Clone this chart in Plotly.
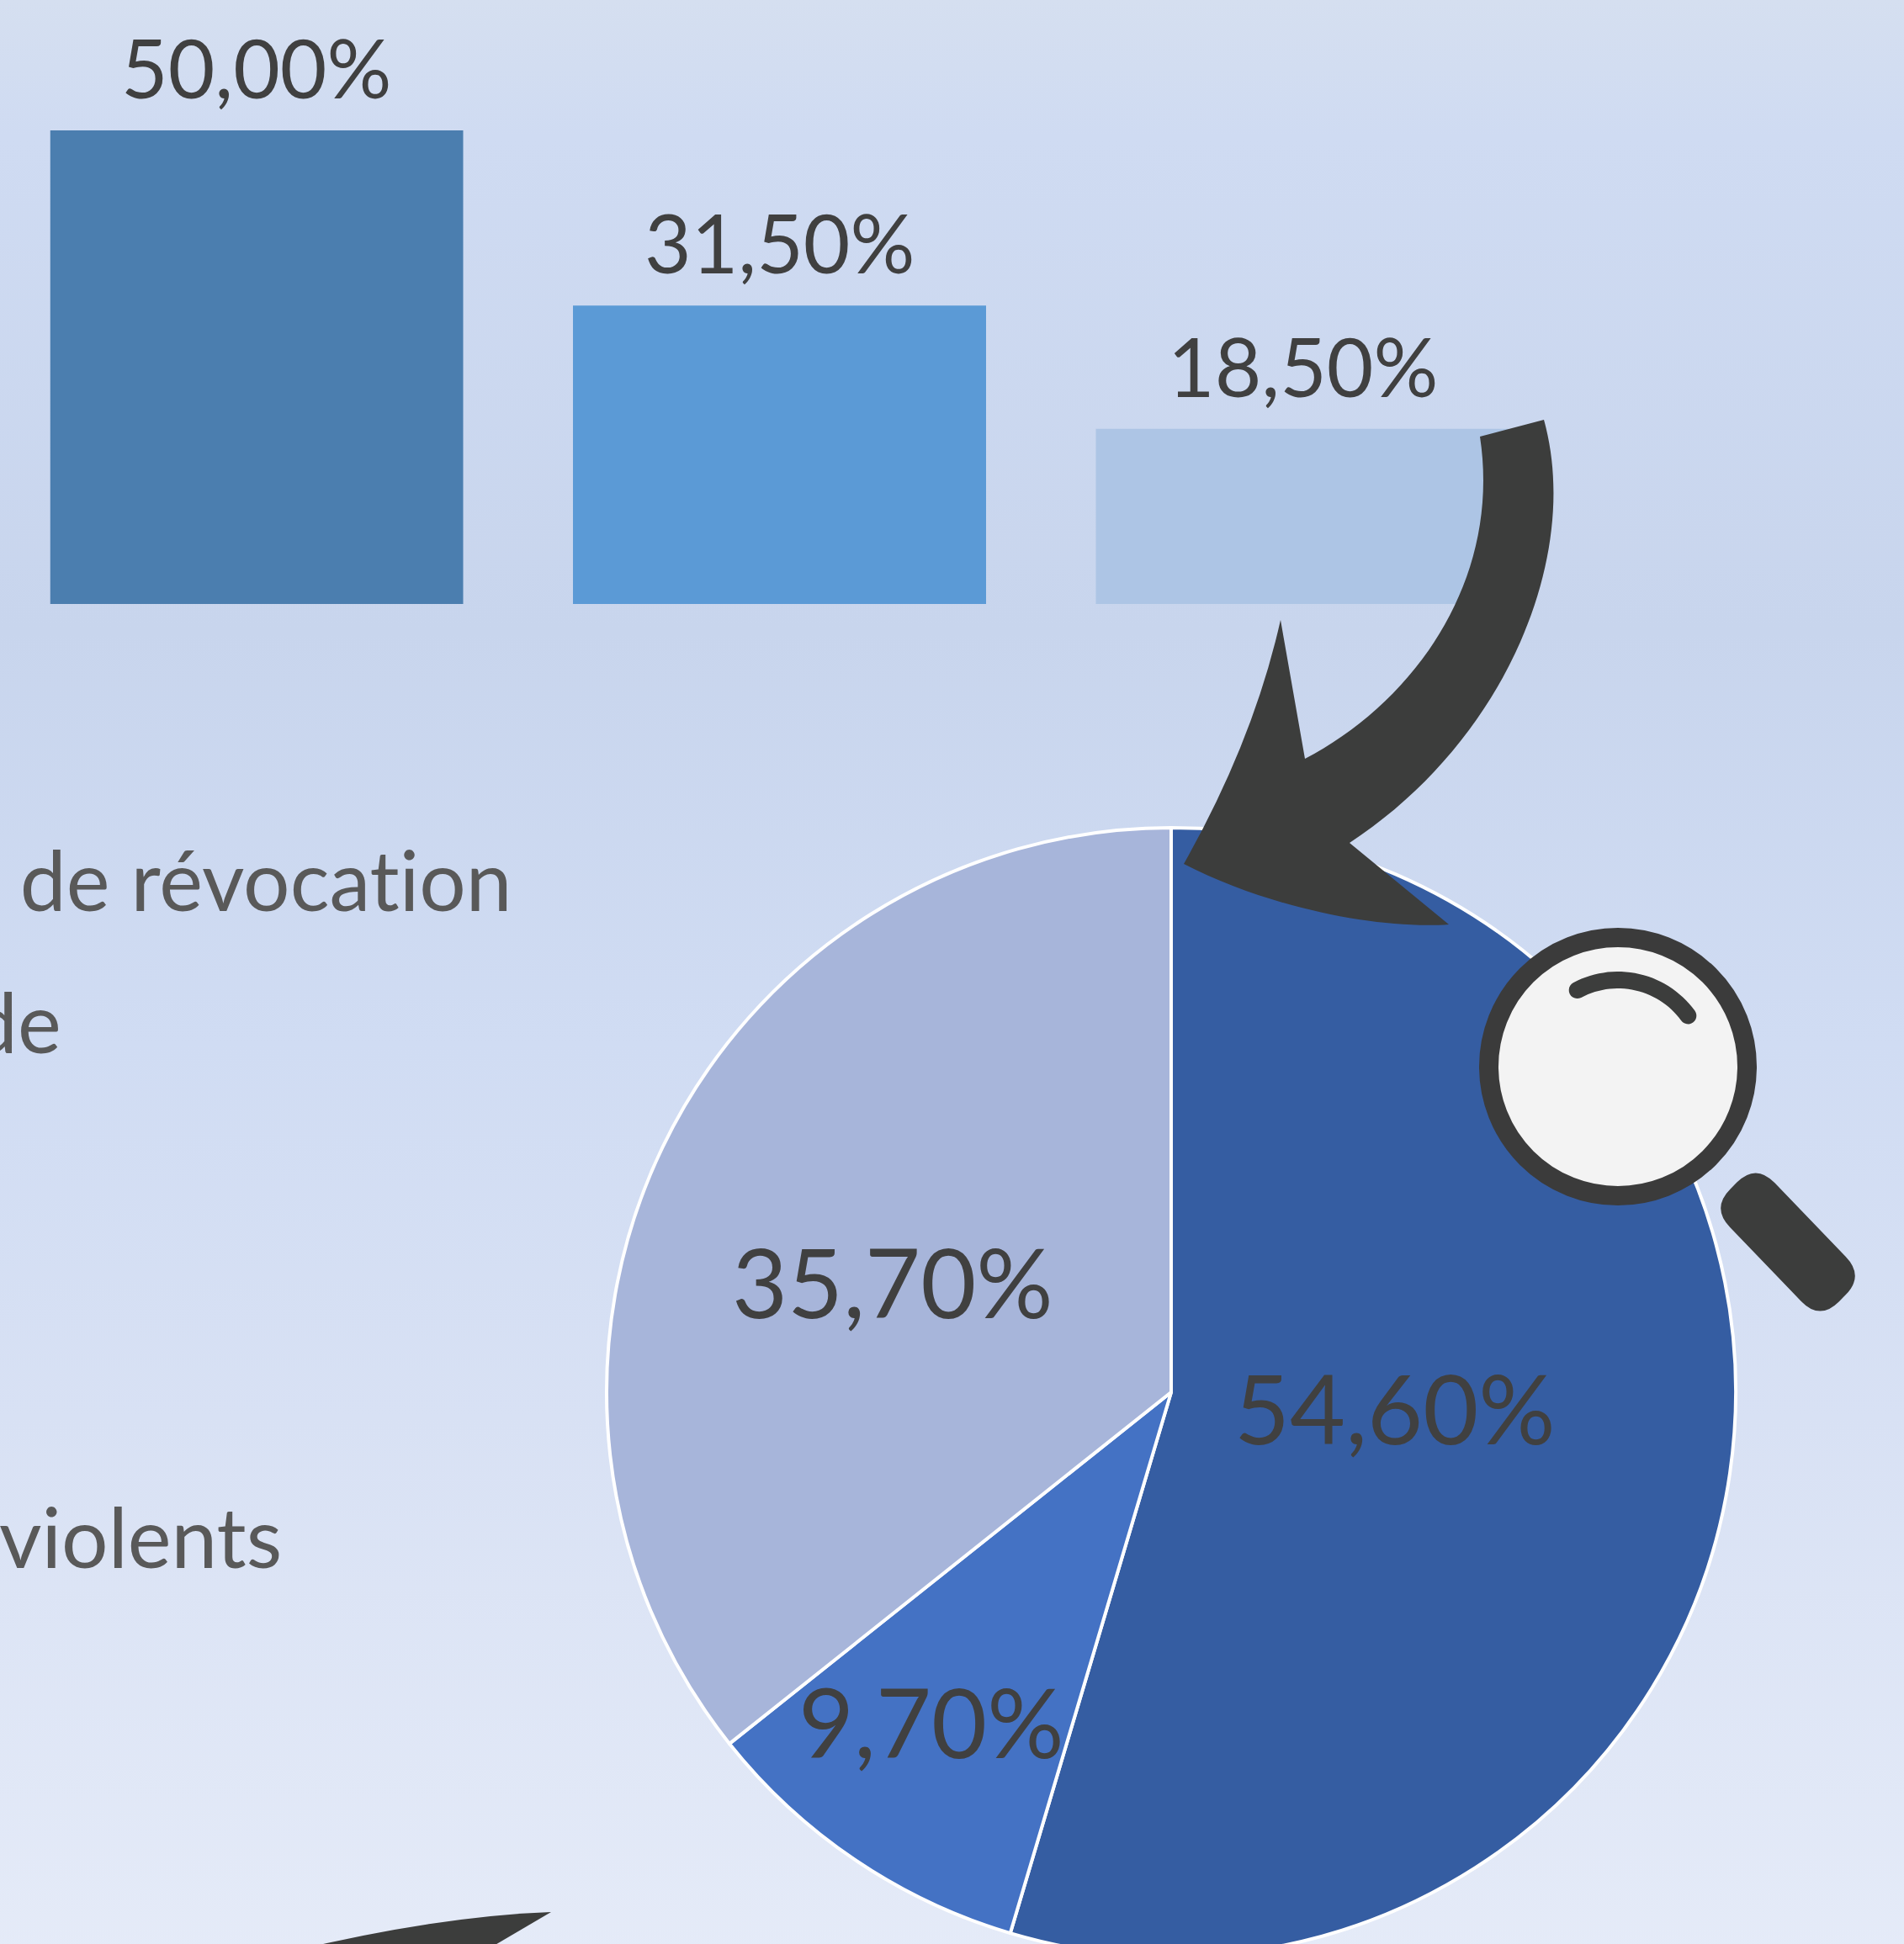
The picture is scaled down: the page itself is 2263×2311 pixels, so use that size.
import math
import plotly.graph_objects as go

# ---- data
bar_categories = ["A", "B", "C"]
bar_values = [50.0, 31.5, 18.5]
pie_labels = ["Part 1", "Part 2", "Part 3"]
pie_values = [54.6, 9.7, 35.7]
left_texts = ["de révocation", "de", "violents"]

# ---- styles
W, H, PAGE_H = 2263, 2340, 2311
TEXT = "#404040"
DARK = "#3C3D3C"
FONT = "Lato"
bar_colors = ["#4B7EAF", "#5B9AD6", "#ADC5E5"]
pie_colors = ["#355DA2", "#4472C4", "#A7B5DA"]
bg_stops = [(0, "#D5DFF0"), (0.07, "#CFDBF2"), (0.32, "#C8D5ED"), (0.53, "#D0DCF3"),
            (0.72, "#D8E1F4"), (1, "#E5EBF8")]


def fmt(v):
    return f"{v:.2f}".replace(".", ",") + "%"


def rounded_poly(pts, r):
    n = len(pts)
    out = []
    for i in range(n):
        p0, p1, p2 = pts[i - 1], pts[i], pts[(i + 1) % n]
        d0 = math.dist(p0, p1)
        d2 = math.dist(p2, p1)
        a = (p1[0] + (p0[0] - p1[0]) * r / d0, p1[1] + (p0[1] - p1[1]) * r / d0)
        b = (p1[0] + (p2[0] - p1[0]) * r / d2, p1[1] + (p2[1] - p1[1]) * r / d2)
        out.append(("M" if i == 0 else "L") + f" {a[0]:.1f} {a[1]:.1f} Q {p1[0]} {p1[1]} {b[0]:.1f} {b[1]:.1f}")
    return " ".join(out) + " Z"


def arc_band(cx, cy, rad, half, a1, a2, steps=30):
    """Thick arc with round ends as a closed path (decoration)."""
    pts = []
    for i in range(steps + 1):
        t = math.radians(a1 + (a2 - a1) * i / steps)
        pts.append((cx + (rad + half) * math.cos(t), cy + (rad + half) * math.sin(t)))
    for i in range(1, 12):
        t = math.radians(a2)
        c = (cx + rad * math.cos(t), cy + rad * math.sin(t))
        u = t + math.pi * i / 12
        pts.append((c[0] + half * math.cos(u), c[1] + half * math.sin(u)))
    for i in range(steps, -1, -1):
        t = math.radians(a1 + (a2 - a1) * i / steps)
        pts.append((cx + (rad - half) * math.cos(t), cy + (rad - half) * math.sin(t)))
    for i in range(1, 12):
        t = math.radians(a1)
        c = (cx + rad * math.cos(t), cy + rad * math.sin(t))
        u = t + math.pi + math.pi * i / 12
        pts.append((c[0] + half * math.cos(u), c[1] + half * math.sin(u)))
    return "M " + " L ".join(f"{x:.1f} {y:.1f}" for x, y in pts) + " Z"


fig = go.Figure()

# page background gradient on a hidden pixel axis
fig.add_trace(go.Scatter(
    x=[0, W, W, 0, 0], y=[0, 0, H, H, 0], mode="lines", line=dict(width=0),
    fill="toself",
    fillgradient=dict(type="vertical",
                      colorscale=[[1 - s, c] for s, c in reversed(bg_stops)]),
    hoverinfo="skip", showlegend=False, xaxis="x", yaxis="y"))

# bars
fig.add_trace(go.Bar(
    x=bar_categories, y=bar_values, marker=dict(color=bar_colors, line=dict(width=0)),
    xaxis="x2", yaxis="y2", showlegend=False, hoverinfo="skip"))

# pie
cx, cy, rad = 1392, 1655, 671
fig.add_trace(go.Pie(
    labels=pie_labels, values=pie_values, sort=False, direction="clockwise", rotation=0,
    marker=dict(colors=pie_colors, line=dict(color="white", width=4)),
    textinfo="none", hoverinfo="skip", showlegend=False,
    domain=dict(x=[(cx - rad) / W, (cx + rad) / W], y=[1 - (cy + rad) / H, 1 - (cy - rad) / H])))

annotations = []
for c, v in zip(bar_categories, bar_values):
    annotations.append(dict(x=c, y=v, xref="x2", yref="y2", text=fmt(v), showarrow=False, yanchor="bottom",
                            yshift=16, font=dict(family=FONT, size=96, color=TEXT)))
for v, (x, y) in zip(pie_values, [(1658, 1672), (1107, 2045), (1061, 1522)]):
    annotations.append(dict(x=x, y=y, xref="x", yref="y", text=fmt(v), showarrow=False,
                            font=dict(family=FONT, size=114, color=TEXT)))
for t, (x, y) in zip(left_texts, [(611, 1045), (75, 1214), (337, 1826)]):
    annotations.append(dict(x=x, y=y, xref="x", yref="y", text=t, showarrow=False, xanchor="right",
                            font=dict(family=FONT, size=98, color="#595959")))

arrow = ("M 1759 519 L 1835 499 C 1880 660 1790 880 1604 1002 L 1722 1099 "
         "C 1640 1105 1510 1080 1407 1027 Q 1490 880 1522 737 L 1551 902 "
         "C 1680 835 1785 690 1759 519 Z")
bottom_arrow = "M 655 2273 Q 520 2278 345 2320 L 575 2320 Z"
handle = rounded_poly([(2087, 1383), (2034, 1436), (2163, 1570), (2216, 1517)], 32)
highlight = arc_band(1923, 1268, 103, 10, 242, 324)


def path_shape(p):
    return dict(type="path", path=p, xref="x", yref="y", fillcolor=DARK, line=dict(width=0), layer="above")


shapes = [
    path_shape(arrow),
    path_shape(bottom_arrow),
    path_shape(handle),
    dict(type="circle", xref="x", yref="y", x0=1923 - 153.5, x1=1923 + 153.5, y0=1268 - 153.5, y1=1268 + 153.5,
         fillcolor="#F3F3F3", line=dict(color="#3B3B3B", width=23), layer="above"),
    path_shape(highlight),
]

fig.update_layout(
    width=W, height=H, margin=dict(l=0, r=0, t=0, b=0),
    paper_bgcolor="#E5EBF8", plot_bgcolor="rgba(0,0,0,0)", showlegend=False,
    bargap=0.21, annotations=annotations, shapes=shapes,
    xaxis=dict(domain=[0, 1], range=[0, W], visible=False, fixedrange=True),
    yaxis=dict(domain=[0, 1], range=[H, 0], visible=False, fixedrange=True),
    xaxis2=dict(domain=[59.5 / W, 1793.5 / W], range=[-0.395, 2.395], visible=False, anchor="y2", fixedrange=True),
    yaxis2=dict(domain=[1 - 718 / H, 1 - 155 / H], range=[0, 50], visible=False, anchor="x2", fixedrange=True),
)

fig.write_html("out.html", config=dict(displayModeBar=False),
               post_script="document.documentElement.style.overflow='hidden';"
                           "document.body.style.overflow='hidden';document.body.style.margin='0';"
                           "var s=document.createElement('style');"
                           "s.textContent='text{font-variant-ligatures:none !important}';"
                           "document.head.appendChild(s);")
